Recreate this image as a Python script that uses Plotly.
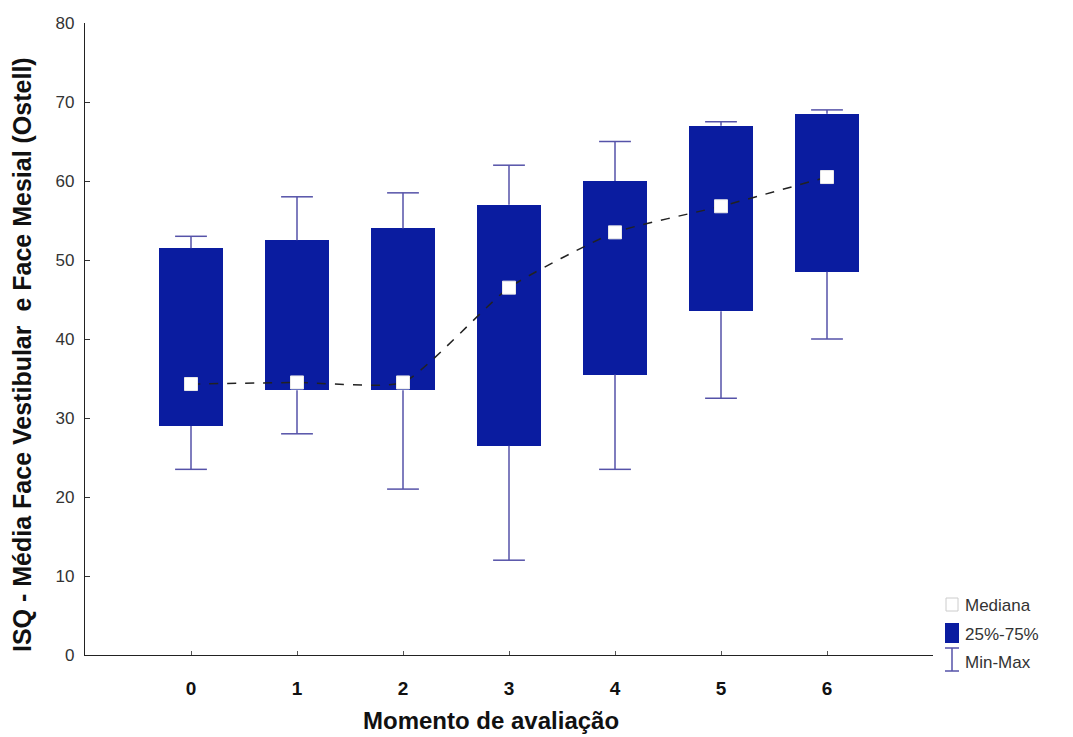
import plotly.graph_objects as go

# Summary statistics per evaluation moment
momentos = [0, 1, 2, 3, 4, 5, 6]
minimo = [23.5, 28.0, 21.0, 12.0, 23.5, 32.5, 40.0]
q1 = [29.0, 33.5, 33.5, 26.5, 35.5, 43.5, 48.5]
mediana = [34.3, 34.5, 34.5, 46.5, 53.5, 56.8, 60.5]
q3 = [51.5, 52.5, 54.0, 57.0, 60.0, 67.0, 68.5]
maximo = [53.0, 58.0, 58.5, 62.0, 65.0, 67.5, 69.0]
y_ticks = [0, 10, 20, 30, 40, 50, 60, 70, 80]

BOX_BLUE = "#0a1ca0"
WHISK = "#5552a8"
CAP_HALF = 0.15
BOX_W = 0.6

fig = go.Figure()

# Whiskers (stems + caps) built from the min/max and quartile values
wx, wy = [], []
for m, lo, a, b, hi in zip(momentos, minimo, q1, q3, maximo):
    wx += [m, m, None, m, m, None]
    wy += [b, hi, None, lo, a, None]
    wx += [m - CAP_HALF, m + CAP_HALF, None, m - CAP_HALF, m + CAP_HALF, None]
    wy += [hi, hi, None, lo, lo, None]
fig.add_trace(go.Scatter(x=wx, y=wy, mode="lines",
                         line=dict(color=WHISK, width=1.5),
                         hoverinfo="skip", showlegend=False))

# Interquartile boxes
fig.add_trace(go.Bar(x=momentos, base=q1,
                     y=[b - a for a, b in zip(q1, q3)],
                     width=BOX_W, marker=dict(color=BOX_BLUE, line=dict(width=0)),
                     showlegend=False))

# Smoothed median trend
fig.add_trace(go.Scatter(x=momentos, y=mediana, mode="lines",
                         line=dict(color="#222222", width=1.5, dash="dash",
                                   shape="spline", smoothing=0.5),
                         hoverinfo="skip", showlegend=False))

# Median markers
fig.add_trace(go.Scatter(x=momentos, y=mediana, mode="markers",
                         marker=dict(symbol="square", size=13, color="white",
                                     line=dict(color="#e8e8e8", width=1)),
                         showlegend=False))


# Legend drawn in paper coordinates at the lower right
def py(p):
    return (655 - p) / 632.0


def px(p):
    return (p - 85) / 848.0


shapes = [
    dict(type="rect", xref="paper", yref="paper",
         x0=px(946), x1=px(958), y0=py(611), y1=py(598),
         fillcolor="white", line=dict(color="#cccccc", width=1)),
    dict(type="rect", xref="paper", yref="paper",
         x0=px(945), x1=px(959), y0=py(643), y1=py(623),
         fillcolor=BOX_BLUE, line=dict(width=0)),
    dict(type="line", xref="paper", yref="paper",
         x0=px(952), x1=px(952), y0=py(671), y1=py(648),
         line=dict(color=WHISK, width=1.5)),
    dict(type="line", xref="paper", yref="paper",
         x0=px(945), x1=px(959), y0=py(648), y1=py(648),
         line=dict(color=WHISK, width=1.5)),
    dict(type="line", xref="paper", yref="paper",
         x0=px(945), x1=px(959), y0=py(671), y1=py(671),
         line=dict(color=WHISK, width=1.5)),
]
annotations = []
for txt, yy in [("Mediana", 605), ("25%-75%", 634), ("Min-Max", 662)]:
    annotations.append(dict(text=txt, xref="paper", yref="paper",
                            x=px(963), y=py(yy), xanchor="left", yanchor="middle",
                            showarrow=False,
                            font=dict(family="Liberation Sans, Arial", size=17,
                                      color="#333333")))

# Vertical axis title
annotations.append(dict(text="<b>ISQ - Média Face Vestibular  e Face Mesial (Ostell)</b>",
                        xref="paper", yref="paper", x=px(22), y=py(355),
                        xanchor="center", yanchor="middle", textangle=-90,
                        showarrow=False,
                        font=dict(family="Liberation Sans, Arial", size=25,
                                  color="#111111")))

# Horizontal axis title
annotations.append(dict(text="<b>Momento de avaliação</b>",
                        xref="paper", yref="paper", x=px(491), y=py(720),
                        xanchor="center", yanchor="middle", showarrow=False,
                        font=dict(family="Liberation Sans, Arial", size=24,
                                  color="#111111")))

fig.update_layout(
    width=1073, height=737,
    margin=dict(l=85, r=140, t=23, b=82),
    paper_bgcolor="white", plot_bgcolor="white",
    bargap=0,
    shapes=shapes, annotations=annotations,
    xaxis=dict(range=[-1, 7], tickmode="array", tickvals=momentos,
               ticktext=[str(m) for m in momentos],
               showgrid=False, zeroline=False, showline=True,
               linecolor="#222222", linewidth=1.2,
               ticks="inside", ticklen=4, tickcolor="#555555",
               ticklabelstandoff=16,
               tickfont=dict(family="Liberation Sans Narrow, Liberation Sans, Arial",
                             size=19, color="#111111", weight="bold")),
    yaxis=dict(range=[0, 80], tickmode="array", tickvals=y_ticks,
               showgrid=False, zeroline=False, showline=True,
               linecolor="#222222", linewidth=1.2,
               ticks="inside", ticklen=5, tickcolor="#333333",
               ticklabelstandoff=6,
               tickfont=dict(family="Liberation Sans, Arial", size=17, color="#333333")),
)

fig.write_html("out.html")
